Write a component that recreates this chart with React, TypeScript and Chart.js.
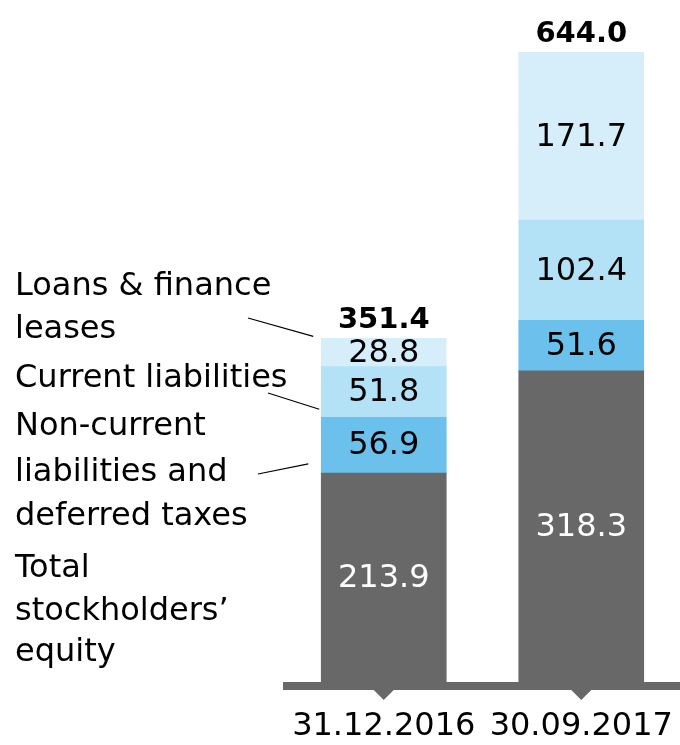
import React, { useEffect, useRef } from 'react';
import { Chart, registerables } from 'chart.js';

Chart.register(...registerables);

const categories = ['31.12.2016', '30.09.2017'];
const equity = [213.9, 318.3];
const nonCurrent = [56.9, 51.6];
const currentLiab = [51.8, 102.4];
const loans = [28.8, 171.7];
const totals = [351.4, 644.0];
const seriesNames = [
  'Total stockholders’ equity',
  'Non-current liabilities and deferred taxes',
  'Current liabilities',
  'Loans & finance leases',
];
const seriesColors = ['#686868', '#6bc1ec', '#b3e1f6', '#d6edfa'];
const labelColors = ['#ffffff', '#000000', '#000000', '#000000'];
const sideText = [
  'Loans & finance',
  'leases',
  'Current liabilities',
  'Non-current',
  'liabilities and',
  'deferred taxes',
  'Total',
  'stockholders’',
  'equity',
];
const sideBaselines = [295, 338, 387, 435, 481, 525, 577, 620, 661];

const FONT = '"DejaVu Sans", "Liberation Sans", Arial, sans-serif';

const overlay = {
  id: 'overlay',
  afterDatasetsDraw(chart: any) {
    const ctx = chart.ctx;
    const xs = chart.scales.x;
    const area = chart.chartArea;
    ctx.save();
    // axis line
    ctx.fillStyle = '#686868';
    const axisTop = Math.round(area.bottom);
    ctx.fillRect(area.left - 2, axisTop, area.right - area.left + 2, 8);
    // triangle tick marks
    const axisBottom = axisTop + 8;
    categories.forEach((_, i) => {
      const cx = xs.getPixelForValue(i);
      ctx.beginPath();
      ctx.moveTo(cx - 10, axisBottom);
      ctx.lineTo(cx + 10, axisBottom);
      ctx.lineTo(cx, axisBottom + 10);
      ctx.closePath();
      ctx.fill();
    });
    // segment value labels
    chart.data.datasets.forEach((ds: any, di: number) => {
      const meta = chart.getDatasetMeta(di);
      meta.data.forEach((el: any, i: number) => {
        const p = el.getProps(['x', 'y', 'base'], true);
        ctx.fillStyle = labelColors[di];
        ctx.font = '32px ' + FONT;
        ctx.textAlign = 'center';
        ctx.textBaseline = 'middle';
        ctx.fillText(Number(ds.data[i]).toFixed(1), p.x, (p.y + p.base) / 2 + 1);
      });
    });
    // totals
    const topMeta = chart.getDatasetMeta(chart.data.datasets.length - 1);
    totals.forEach((t, i) => {
      const el = topMeta.data[i];
      ctx.fillStyle = '#000000';
      ctx.font = 'bold 29px ' + FONT;
      ctx.textAlign = 'center';
      ctx.textBaseline = 'alphabetic';
      ctx.fillText(t.toFixed(1), el.x, el.y - 10);
    });
    // side annotation text
    ctx.fillStyle = '#000000';
    ctx.font = '32px ' + FONT;
    ctx.textAlign = 'left';
    ctx.textBaseline = 'alphabetic';
    sideText.forEach((s, i) => ctx.fillText(s, 15, sideBaselines[i]));
    // leader lines anchored on first bar
    const m3 = chart.getDatasetMeta(3).data[0];
    const m2 = chart.getDatasetMeta(2).data[0];
    const m1 = chart.getDatasetMeta(1).data[0];
    const left = m3.x - m3.width / 2;
    ctx.strokeStyle = '#000000';
    ctx.lineWidth = 1.2;
    const seg = (x1: number, y1: number, x2: number, y2: number) => {
      ctx.beginPath();
      ctx.moveTo(x1, y1);
      ctx.lineTo(x2, y2);
      ctx.stroke();
    };
    seg(248, 318, left - 8, m3.y - 2);
    seg(268, 393, left - 2, m2.base - 8);
    seg(258, 474, left - 13, m1.base - 9);
    ctx.restore();
  },
};

export default function App() {
  const ref = useRef<HTMLCanvasElement>(null);
  useEffect(() => {
    if (!ref.current) return;
    const data = [equity, nonCurrent, currentLiab, loans];
    const chart = new Chart(ref.current, {
      type: 'bar',
      data: {
        labels: categories,
        datasets: data.map((d, i) => ({
          label: seriesNames[i],
          data: d,
          backgroundColor: seriesColors[i],
          borderWidth: 0,
          barThickness: 125,
          stack: 's',
        })),
      },
      options: {
        responsive: false,
        animation: false,
        layout: { padding: { left: 285, right: 0, top: 17, bottom: 0 } },
        plugins: {
          legend: { display: false },
          tooltip: { enabled: false },
        },
        scales: {
          x: {
            stacked: true,
            grid: {
              display: true,
              drawOnChartArea: false,
              drawTicks: true,
              tickLength: 26,
              color: 'rgba(0,0,0,0)',
            },
            border: { display: false },
            ticks: {
              color: '#000000',
              font: { family: FONT, size: 32, lineHeight: 1.15 },
              padding: 0,
              maxRotation: 0,
              autoSkip: false,
            },
          },
          y: {
            stacked: true,
            display: false,
            min: 0,
            max: 680,
          },
        },
      },
      plugins: [overlay],
    });
    return () => chart.destroy();
  }, []);
  return (
    <div style={{ position: 'absolute', left: 0, top: 0, width: 680, height: 745, background: '#ffffff' }}>
      <canvas ref={ref} width={680} height={745} style={{ display: 'block' }} />
    </div>
  );
}
